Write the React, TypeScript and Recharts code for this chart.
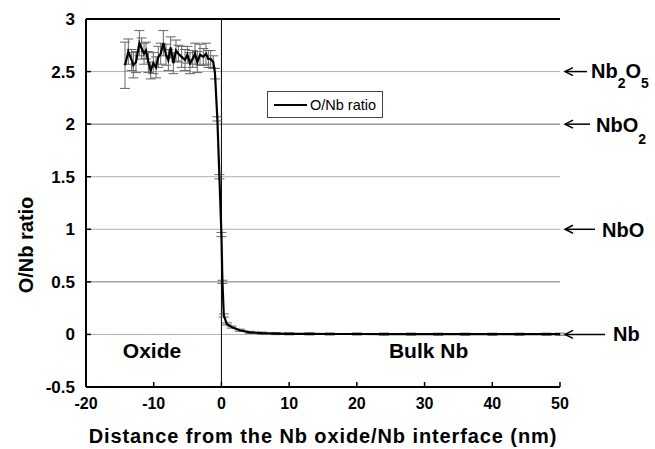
import React from 'react';
import { LineChart, Line, XAxis, YAxis, ReferenceLine, ReferenceDot, ErrorBar } from 'recharts';

const distance = [
  -14.24, -13.75, -13.26, -13.01, -12.62, -12.12, -11.78, -11.43, -11.14, -10.79,
  -10.45, -10.06, -9.66, -9.32, -8.97, -8.58, -8.19, -7.84, -7.5, -7.1,
  -6.71, -6.36, -5.87, -5.38, -5.03, -4.64, -4.25, -3.9, -3.56, -3.16,
  -2.67, -2.28, -1.93, -1.59, -1.2, -0.95,
  -0.6, -0.3, 0, 0.15, 0.35, 0.8, 1.5, 2.7, 4.2, 6, 8, 10, 13, 16, 20, 24, 28, 32, 36, 40, 44, 48, 50,
];
const ratio = [
  2.56, 2.69, 2.61, 2.56, 2.59, 2.77, 2.72, 2.67, 2.7, 2.59,
  2.51, 2.58, 2.54, 2.64, 2.67, 2.77, 2.66, 2.61, 2.73, 2.58,
  2.7, 2.67, 2.64, 2.61, 2.66, 2.58, 2.62, 2.67, 2.59, 2.66,
  2.64, 2.67, 2.62, 2.62, 2.59, 2.48,
  2.05, 1.5, 0.95, 0.5, 0.18, 0.1, 0.07, 0.04, 0.02, 0.012, 0.008, 0.006, 0.005, 0.004, 0.004, 0.003, 0.003, 0.002, 0.002, 0.002, 0.002, 0.002, 0.002,
];
const ratioErr = [
  0.22, 0.12, 0.1, 0.12, 0.1, 0.12, 0.1, 0.1, 0.08, 0.1,
  0.08, 0.1, 0.1, 0.1, 0.1, 0.12, 0.1, 0.1, 0.1, 0.1,
  0.1, 0.08, 0.1, 0.1, 0.08, 0.1, 0.08, 0.1, 0.1, 0.1,
  0.08, 0.1, 0.08, 0.08, 0.06, 0.05,
  0.02, 0.02, 0.02, 0.015, 0.015, 0.01, 0.01, 0.01, 0.01, 0.01, 0.01, 0.01, 0.01, 0.01, 0.01, 0.01, 0.01, 0.01, 0.01, 0.01, 0.01, 0.01, 0.01,
];

const xTicks = [-20, -10, 0, 10, 20, 30, 40, 50];
const yTicks = [-0.5, 0, 0.5, 1, 1.5, 2, 2.5, 3];

const gridLines = [
  { y: 2.5, color: '#b0b0b0' },
  { y: 2, color: '#666' },
  { y: 1.5, color: '#b0b0b0' },
  { y: 1, color: '#b0b0b0' },
  { y: 0.5, color: '#777' },
  { y: 0, color: '#b0b0b0' },
];
// oxide phases marked on the right side
const species = [
  { y: 2.5, parts: [['Nb', 0], ['2', 10], ['O', 0], ['5', 10]], arrow: 22, textAt: 26, dy: 6 },
  { y: 2, parts: [['NbO', 0], ['2', 12]], arrow: 25, textAt: 31, dy: 8 },
  { y: 1, parts: [['NbO', 0]], arrow: 30, textAt: 37, dy: 8 },
  { y: 0, parts: [['Nb', 0]], arrow: 40, textAt: 48, dy: 7 },
];

const data = distance.map((d, i) => ({ d, ratio: ratio[i], err: ratioErr[i] }));

const FONT = '"Liberation Sans", Arial, sans-serif';

const speciesLabel = (s: typeof species[number]) => (props: any) => {
  const { viewBox } = props;
  const x0 = viewBox.x + viewBox.width + 5;
  const y0 = viewBox.y;
  let prev = 0;
  return (
    <g>
      <line x1={x0} y1={y0} x2={x0 + s.arrow} y2={y0} stroke="#000" strokeWidth={1.5} />
      <path d={`M${x0 + 8},${y0 - 4} L${x0},${y0} L${x0 + 8},${y0 + 4}`} fill="none" stroke="#000" strokeWidth={1.5} />
      <text x={x0 + s.textAt} y={y0 + s.dy} fontFamily={FONT} fontWeight="bold" fontSize={20} fill="#000">
        {s.parts.map(([t, drop], i) => {
          const dy = (drop as number) - prev;
          prev = drop as number;
          return (
            <tspan key={i} dy={dy} fontSize={drop ? 14 : 20}>{t}</tspan>
          );
        })}
      </text>
    </g>
  );
};

const XTick = (props: any) => {
  const { x, y, payload } = props;
  return (
    <g>
      <line x1={x} x2={x} y1={y} y2={y - 5} stroke="#000" strokeWidth={1.5} />
      <text x={x} y={y + 22} textAnchor="middle" fontFamily={FONT} fontWeight="bold" fontSize={16} fill="#000">
        {payload.value}
      </text>
    </g>
  );
};

const YTickLeft = (props: any) => {
  const { x, y, payload } = props;
  return (
    <g>
      <line x1={x} x2={x + 5} y1={y} y2={y} stroke="#000" strokeWidth={1.5} />
      <text x={x - 11} y={y + 6} textAnchor="end" fontFamily={FONT} fontWeight="bold" fontSize={17} fill="#000">
        {payload.value}
      </text>
    </g>
  );
};

const YTickRight = (props: any) => {
  const { x, y } = props;
  return <line x1={x} x2={x - 5} y1={y} y2={y} stroke="#000" strokeWidth={1.5} />;
};

const App: React.FC = () => {
  return (
    <div style={{ position: 'absolute', left: 0, top: 0, width: 655, height: 449, background: '#fff' }}>
      <LineChart
        width={655}
        height={449}
        data={data}
        margin={{ top: 19, right: 95, left: 0, bottom: 0 }}
      >
        <XAxis
          dataKey="d"
          type="number"
          domain={[-20, 50]}
          ticks={xTicks}
          height={62}
          tickSize={0}
          tickMargin={0}
          tickLine={false}
          axisLine={{ stroke: '#000', strokeWidth: 2 }}
          tick={<XTick />}
          label={{
            content: () => (
              <text x={323} y={443} textAnchor="middle" fontFamily={FONT} fontWeight="bold" fontSize={20} letterSpacing={0.9} fill="#000">
                Distance from the Nb oxide/Nb interface (nm)
              </text>
            ),
          }}
        />
        <YAxis
          yAxisId="left"
          type="number"
          domain={[-0.5, 3]}
          ticks={yTicks}
          width={86}
          tickSize={0}
          tickMargin={0}
          tickLine={false}
          axisLine={{ stroke: '#000', strokeWidth: 2 }}
          tick={<YTickLeft />}
          label={{
            content: () => (
              <text x={33} y={245} transform="rotate(-90 33 245)" textAnchor="middle" fontFamily={FONT} fontWeight="bold" fontSize={20} fill="#000">
                O/Nb ratio
              </text>
            ),
          }}
        />
        <YAxis
          yAxisId="right"
          orientation="right"
          type="number"
          domain={[-0.5, 3]}
          ticks={yTicks}
          width={0}
          tickSize={0}
          tickMargin={0}
          tickLine={false}
          tick={<YTickRight />}
          axisLine={{ stroke: '#000', strokeWidth: 2 }}
        />
        {gridLines.map((g) => (
          <ReferenceLine key={g.y} yAxisId="left" y={g.y} stroke={g.color} strokeWidth={1} />
        ))}
        {species.map((s) => (
          <ReferenceLine key={`s${s.y}`} yAxisId="left" y={s.y} stroke="none" label={{ content: speciesLabel(s) }} />
        ))}
        <ReferenceLine yAxisId="left" y={3} stroke="#000" strokeWidth={2} />
        <ReferenceLine yAxisId="left" x={0} stroke="#000" strokeWidth={1} />
        <ReferenceDot
          yAxisId="left"
          x={-10.25}
          y={-0.155}
          r={0}
          stroke="none"
          label={{ value: 'Oxide', position: 'center', fill: '#000', fontFamily: FONT, fontWeight: 'bold', fontSize: 21 }}
        />
        <ReferenceDot
          yAxisId="left"
          x={30.6}
          y={-0.155}
          r={0}
          stroke="none"
          label={{ value: 'Bulk Nb', position: 'center', fill: '#000', fontFamily: FONT, fontWeight: 'bold', fontSize: 21 }}
        />
        <Line
          yAxisId="left"
          type="linear"
          dataKey="ratio"
          stroke="#000"
          strokeWidth={2.2}
          dot={false}
          isAnimationActive={false}
        >
          <ErrorBar dataKey="err" width={5} stroke="#666" strokeWidth={1} direction="y" isAnimationActive={false} />
        </Line>
      </LineChart>
      <div
        style={{
          position: 'absolute',
          left: 267,
          top: 91,
          width: 114,
          height: 25,
          border: '1px solid #444',
          display: 'flex',
          alignItems: 'center',
          fontFamily: FONT,
          fontSize: 14.5,
          color: '#000',
        }}
      >
        <div style={{ width: 33, height: 2, background: '#000', marginLeft: 6, marginRight: 3 }} />
        <span>O/Nb ratio</span>
      </div>
    </div>
  );
};

export default App;
